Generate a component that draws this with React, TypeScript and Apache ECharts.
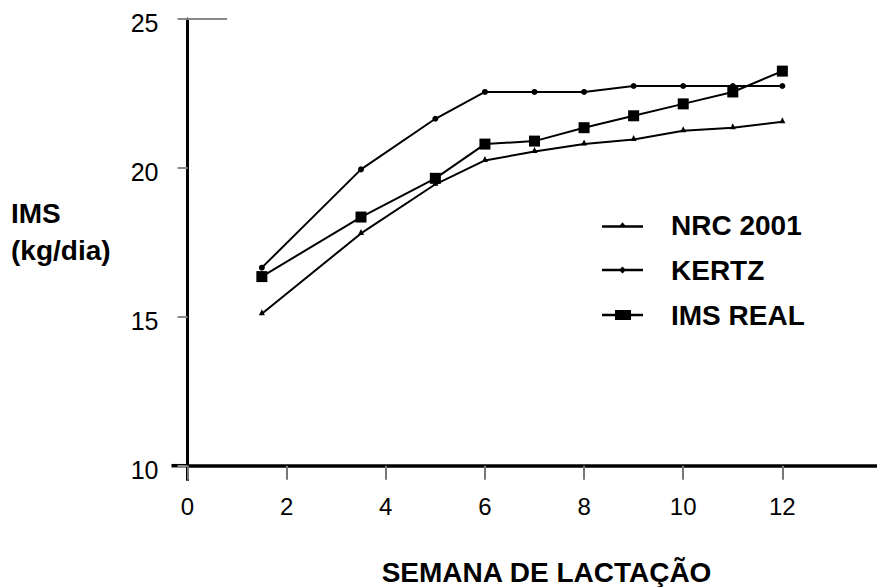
import React, { useEffect, useRef } from "react";
import * as echarts from "echarts";

const weeks = [1.5, 3.5, 5, 6, 7, 8, 9, 10, 11, 12];
const nrc2001 = [15.1, 17.8, 19.45, 20.25, 20.55, 20.8, 20.95, 21.25, 21.35, 21.55];
const kertz = [16.65, 19.95, 21.65, 22.55, 22.55, 22.55, 22.75, 22.75, 22.75, 22.75];
const imsReal = [16.35, 18.35, 19.65, 20.8, 20.9, 21.35, 21.75, 22.15, 22.55, 23.25];
const seriesNames = ["NRC 2001", "KERTZ", "IMS REAL"];
const xTitle = "SEMANA DE LACTAÇÃO";
const yTitle = "IMS\n(kg/dia)";

const FONT = "'Liberation Sans', Arial, Helvetica, sans-serif";

const legendIcons = [
  "path://M0,5h41v2.5h-41z M18,5l2.5,-3l2.5,3z",
  "path://M0,5h41v2.5h-41z M17,6.25l3.5,-3.5l3.5,3.5l-3.5,3.5z",
  "path://M0,5h41v2.5h-41z M13,1.25h16v10h-16z",
];

export default function App() {
  const ref = useRef<HTMLDivElement>(null);
  useEffect(() => {
    document.body.style.margin = "0";
    if (!ref.current) return;
    const chart = echarts.init(ref.current, null, { renderer: "svg" });
    const pairs = (vals: number[]) => weeks.map((w, i) => [w, vals[i]]);
    const option: any = {
      animation: false,
      backgroundColor: "#fff",
      grid: {
        left: 187.5,
        right: -4.5,
        top: 19,
        bottom: 121.3,
        containLabel: false,
        outerBoundsMode: "none",
      },
      xAxis: {
        type: "value",
        min: 0,
        max: 14,
        interval: 2,
        axisLine: { show: true, onZero: false, lineStyle: { color: "#000", width: 3.5 } },
        axisTick: { show: true, inside: false, length: 14, lineStyle: { color: "#777", width: 2 } },
        axisLabel: { margin: 29, fontSize: 24, color: "#000", fontFamily: FONT, showMaxLabel: false },
        splitLine: { show: false },
      },
      yAxis: {
        type: "value",
        min: 10,
        max: 25,
        interval: 5,
        axisLine: { show: true, onZero: false, lineStyle: { color: "#000", width: 3 } },
        axisTick: { show: true, inside: false, length: 10, lineStyle: { color: "#888", width: 2 } },
        axisLabel: {
          margin: 29,
          fontSize: 25,
          color: "#000",
          fontFamily: FONT,
          verticalAlign: "top",
          lineHeight: 8,
        },
        splitLine: { show: false },
      },
      legend: {
        orient: "vertical",
        left: 602,
        top: 211,
        padding: 0,
        itemWidth: 41,
        itemHeight: 12,
        itemGap: 17,
        selectedMode: false,
        symbolKeepAspect: true,
        itemStyle: { borderWidth: 0 },
        textStyle: {
          fontSize: 28,
          fontWeight: "bold",
          color: "#000",
          fontFamily: FONT,
          lineHeight: 28,
          padding: [0, 0, 0, 23],
        },
        data: seriesNames.map((n, i) => ({ name: n, icon: legendIcons[i] })),
      },
      series: [
        {
          name: seriesNames[0],
          type: "line",
          data: pairs(nrc2001),
          symbol: "triangle",
          symbolSize: 6,
          symbolOffset: [0, -1.5],
          lineStyle: { color: "#000", width: 2 },
          itemStyle: { color: "#000", borderWidth: 0 },
          z: 2,
        },
        {
          name: seriesNames[1],
          type: "line",
          data: pairs(kertz),
          symbol: "circle",
          symbolSize: 6,
          lineStyle: { color: "#000", width: 2 },
          itemStyle: { color: "#000", borderWidth: 0 },
          z: 3,
          markLine: {
            silent: true,
            symbol: "none",
            label: { show: false },
            lineStyle: { color: "#888", width: 2, type: "solid" },
            data: [[{ coord: [0, 25] }, { coord: [0.8, 25] }]],
          },
        },
        {
          name: seriesNames[2],
          type: "line",
          data: pairs(imsReal),
          symbol: "rect",
          symbolSize: 11,
          lineStyle: { color: "#000", width: 2 },
          itemStyle: { color: "#000", borderWidth: 0 },
          z: 4,
        },
      ],
    };
    chart.setOption(option);
    const origin = chart.convertToPixel({ gridIndex: 0 }, [0, 10]) as number[];
    const ox = origin[0];
    const oy = origin[1];
    chart.setOption({
      graphic: [
        {
          type: "line",
          shape: { x1: ox, y1: oy, x2: ox, y2: oy + 15 },
          style: { stroke: "#000", lineWidth: 3 },
          silent: true,
        },
        {
          type: "line",
          shape: { x1: ox - 16, y1: oy, x2: ox, y2: oy },
          style: { stroke: "#000", lineWidth: 3.5 },
          silent: true,
        },
        {
          type: "text",
          x: 11,
          y: 232,
          style: {
            text: yTitle,
            fontSize: 28,
            fontWeight: "bold",
            fontFamily: FONT,
            fill: "#000",
            lineHeight: 37,
            align: "left",
            verticalAlign: "middle",
          },
        },
        {
          type: "text",
          x: 546.5,
          y: 572,
          style: {
            text: xTitle,
            fontSize: 28,
            fontWeight: "bold",
            fontFamily: FONT,
            fill: "#000",
            align: "center",
            verticalAlign: "middle",
          },
        },
      ],
    });
    return () => chart.dispose();
  }, []);
  return <div ref={ref} style={{ width: 877, height: 587 }} />;
}
